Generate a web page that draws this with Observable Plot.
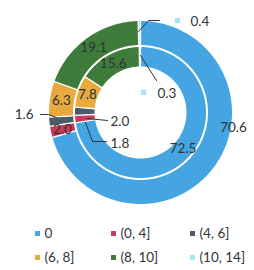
<!DOCTYPE html>
<html>
<head>
<meta charset="utf-8">
<script src="https://cdn.jsdelivr.net/npm/d3@7"></script>
<script src="https://cdn.jsdelivr.net/npm/@observablehq/plot@0.6"></script>
<style>
  html, body { margin: 0; padding: 0; background: #fff; }
  #chart svg { display: block; }
</style>
</head>
<body>
<div id="chart"></div>
<script>
// ---- data ----
const categories = ["0", "(0, 4]", "(4, 6]", "(6, 8]", "(8, 10]", "(10, 14]"];
const outerValues = [70.6, 2.0, 1.6, 6.3, 19.1, 0.4];
const innerValues = [72.5, 1.8, 2.0, 7.8, 15.6, 0.3];
const colors = ["#44a5e2", "#c73a5c", "#4d5a68", "#e8aa3c", "#3f7b3a", "#a8e3f6"];

// ---- layout ----
const W = 254, H = 270;
const cx = 140, cy = 112;
const rings = {
  outer: {r0: 67.5, r1: 91.5, labelR: 80},
  inner: {r0: 46, r1: 65.5, labelR: 56}
};
const font = "Lato, 'Open Sans', sans-serif";

function pt(a, r) { return {x: cx + r * Math.sin(a), y: cy - r * Math.cos(a)}; }

function makeRing(values, name) {
  const g = rings[name];
  const arcs = d3.pie().sort(null).value(d => d)(values);
  return arcs.map((a, i) => ({
    cat: categories[i], value: values[i], ring: name,
    a0: a.startAngle, a1: a.endAngle, r0: g.r0, r1: g.r1, labelR: g.labelR, color: colors[i]
  }));
}
const slices = [...makeRing(outerValues, "outer"), ...makeRing(innerValues, "inner")];

function polygon(s) {
  const n = Math.max(2, Math.ceil((s.a1 - s.a0) * 180 / Math.PI));
  const pts = [];
  for (let k = 0; k <= n; k++) pts.push(pt(s.a0 + (s.a1 - s.a0) * k / n, s.r1));
  for (let k = n; k >= 0; k--) pts.push(pt(s.a0 + (s.a1 - s.a0) * k / n, s.r0));
  return pts;
}

// radial separators
const seps = slices.map(s => {
  const p0 = pt(s.a0, s.r0 - 0.5), p1 = pt(s.a0, s.r1 + 0.5);
  return {x1: p0.x, y1: p0.y, x2: p1.x, y2: p1.y};
});

// callouts for small slices (label positions are layout)
const callouts = [
  {ring: "outer", cat: "(10, 14]", path: [[138, 31], [148, 20], [159, 20]], key: [177, 20], text: [190, 21], anchor: "start"},
  {ring: "inner", cat: "(10, 14]", path: [[140, 55], [156, 80]], key: [143, 92], text: [157, 93], anchor: "start"},
  {ring: "outer", cat: "(4, 6]", path: [[56, 117], [48, 114], [40, 114]], text: [33, 114], anchor: "end"},
  {ring: "inner", cat: "(4, 6]", path: [[87, 118], [107, 120]], text: [110, 121], anchor: "start"},
  {ring: "inner", cat: "(0, 4]", path: [[85, 122], [92, 141], [106, 141]], text: [110, 143], anchor: "start"}
];
const labelOverride = {"outer|0": {x: 233, y: 127}};

const inLabels = slices
  .filter(s => !callouts.some(c => c.ring === s.ring && c.cat === s.cat))
  .map(s => {
    const o = labelOverride[s.ring + "|" + s.cat];
    const p = o ? o : pt((s.a0 + s.a1) / 2, s.labelR);
    return {x: p.x, y: p.y, text: s.value.toFixed(1)};
  });

const calloutLines = callouts.flatMap((c, j) => c.path.map(([x, y]) => ({x, y, j})));
const calloutTexts = callouts.map(c => {
  const s = slices.find(s => s.ring === c.ring && s.cat === c.cat);
  return {x: c.text[0], y: c.text[1], text: s.value.toFixed(1), anchor: c.anchor};
});
const calloutKeys = callouts.filter(c => c.key).map(c => {
  const s = slices.find(s => s.ring === c.ring && s.cat === c.cat);
  return {x: c.key[0], y: c.key[1], color: s.color};
});

// legend
const legendCols = [37, 113, 192], legendRows = [233, 257];
const legend = categories.map((c, i) => ({
  cat: c, color: colors[i], x: legendCols[i % 3], y: legendRows[Math.floor(i / 3)]
}));

const txt = {fill: "#2f3438", fontSize: 13.5, fontFamily: font};
const marks = [
  ...slices.map(s => Plot.line(polygon(s), {x: "x", y: "y", fill: s.color, stroke: "none", curve: "linear"})),
  Plot.link(seps, {x1: "x1", y1: "y1", x2: "x2", y2: "y2", stroke: "white", strokeWidth: 1.4}),
  Plot.text(inLabels, {x: "x", y: "y", text: "text", ...txt}),
  Plot.line(calloutLines, {x: "x", y: "y", z: "j", stroke: "#2f3438", strokeWidth: 1}),
  Plot.dot(calloutKeys, {x: "x", y: "y", fill: "color", symbol: "square", r: 3, stroke: "none"}),
  Plot.text(calloutTexts.filter(d => d.anchor === "start"), {x: "x", y: "y", text: "text", textAnchor: "start", ...txt}),
  Plot.text(calloutTexts.filter(d => d.anchor === "end"), {x: "x", y: "y", text: "text", textAnchor: "end", ...txt}),
  Plot.dot(legend, {x: "x", y: "y", fill: "color", symbol: "square", r: 2.8, stroke: "none"}),
  Plot.text(legend, {x: d => d.x + 7, y: "y", text: "cat", textAnchor: "start", ...txt})
];

const chart = Plot.plot({
  width: W, height: H,
  margin: 0,
  x: {domain: [0, W], range: [0, W], axis: null},
  y: {domain: [0, H], range: [0, H], axis: null},
  color: {type: "identity"},
  style: {background: "white", fontFamily: font},
  marks
});
document.getElementById("chart").appendChild(chart);
</script>
</body>
</html>
